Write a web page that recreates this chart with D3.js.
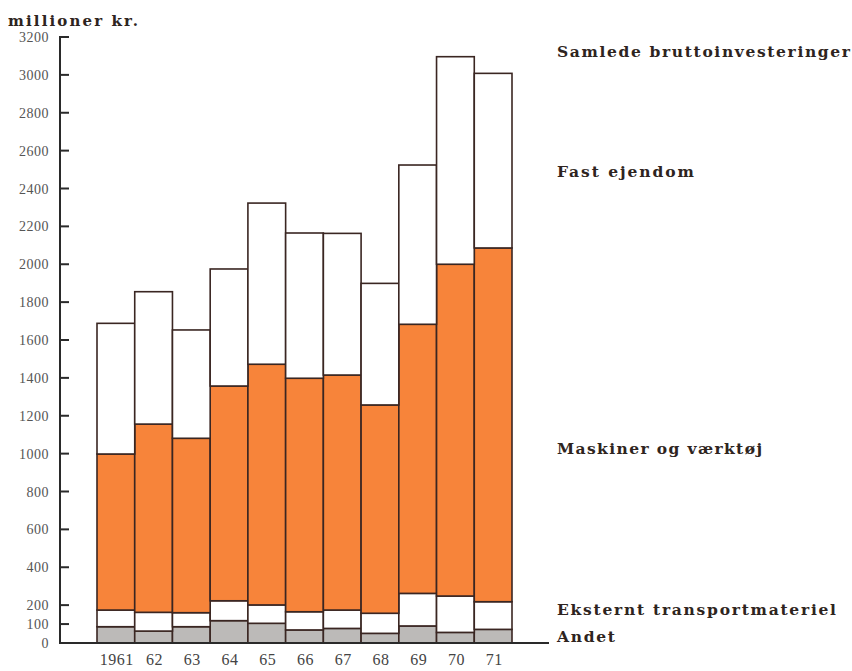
<!DOCTYPE html>
<html><head><meta charset="utf-8">
<script src="https://cdn.jsdelivr.net/npm/d3@7"></script>
<style>body{margin:0;background:#fff}svg{display:block}</style>
</head><body>
<svg id="c" width="852" height="671"></svg>
<script>
const years = ["1961","62","63","64","65","66","67","68","69","70","71"];
const andet = [86, 63, 86, 118, 104, 69, 77, 51, 90, 56, 72];
const transport = [88, 99, 74, 105, 97, 96, 97, 106, 172, 192, 146];
const maskiner = [824, 994, 921, 1134, 1271, 1233, 1241, 1100, 1421, 1752, 1868];
const fastEjendom = [690, 699, 572, 618, 851, 767, 748, 642, 841, 1096, 922];
const seriesKeys = ["andet","transport","maskiner","fast"];
const seriesLabels = ["Andet","Eksternt transportmateriel","Maskiner og værktøj","Fast ejendom"];
const totalLabel = "Samlede bruttoinvesteringer";
const yTicks = [0,100,200,400,600,800,1000,1200,1400,1600,1800,2000,2200,2400,2600,2800,3000,3200];
const unitLabel = "millioner kr.";

const rows = years.map((y,i)=>({year:y, andet:andet[i], transport:transport[i], maskiner:maskiner[i], fast:fastEjendom[i]}));
const stack = d3.stack().keys(seriesKeys)(rows);

const svg = d3.select("#c");
const x = d3.scaleBand().domain(years).range([97,512]).padding(0);
const y = d3.scaleLinear().domain([0,3200]).range([643,37]);
const fills = {andet:"#bcbab8", transport:"#ffffff", maskiner:"#f7843a", fast:"#ffffff"};
const ink = "#3a2622";
const serif = "'Liberation Serif','DejaVu Serif',serif";
const boldSerif = "'DejaVu Serif','Liberation Serif',serif";

// bars
svg.append("g").selectAll("g").data(stack).join("g")
  .attr("fill", d=>fills[d.key])
  .selectAll("rect").data(d=>d).join("rect")
  .attr("x", d=>x(d.data.year))
  .attr("width", x.bandwidth())
  .attr("y", d=>y(d[1]))
  .attr("height", d=>y(d[0])-y(d[1]))
  .attr("stroke", ink).attr("stroke-width",1.6);

// y axis
const axisX = 60;
const ax = svg.append("g");
ax.append("line").attr("x1",axisX).attr("x2",axisX).attr("y1",y(3200)-1).attr("y2",y(0))
  .attr("stroke","#2a2a2a").attr("stroke-width",2);
ax.selectAll("line.t").data(yTicks.filter(v=>v>0)).join("line").attr("class","t")
  .attr("x1",axisX).attr("x2",axisX+9).attr("y1",d=>y(d)).attr("y2",d=>y(d))
  .attr("stroke","#2a2a2a").attr("stroke-width",2);
ax.selectAll("text").data(yTicks).join("text")
  .attr("x",49).attr("y",d=>y(d)+5)
  .attr("text-anchor","end").attr("font-family",serif).attr("font-size",14)
  .attr("letter-spacing",0.5).attr("fill","#555")
  .text(d=>String(d));
// baseline
svg.append("line").attr("x1",axisX-1).attr("x2",549).attr("y1",y(0)).attr("y2",y(0))
  .attr("stroke","#2a2a2a").attr("stroke-width",2);

// x labels
svg.append("g").selectAll("text").data(years).join("text")
  .attr("x",d=>x(d)+x.bandwidth()/2+1).attr("y",665)
  .attr("text-anchor","middle").attr("font-family",serif).attr("font-size",16)
  .attr("letter-spacing",0.5).attr("fill","#444").text(d=>d);

// unit label
svg.append("text").attr("x",8).attr("y",26).attr("font-family",boldSerif).attr("font-weight","bold")
  .attr("font-size",15).attr("fill","#2e2420").attr("textLength",130).attr("lengthAdjust","spacing").text(unitLabel);

// series labels
const lab = [
  {t: totalLabel, y:57, w:293},
  {t: seriesLabels[3], y:177, w:137},
  {t: seriesLabels[2], y:454, w:205},
  {t: seriesLabels[1], y:615, w:279},
  {t: seriesLabels[0], y:642, w:58}
];
svg.append("g").selectAll("text").data(lab).join("text")
  .attr("x",557).attr("y",d=>d.y).attr("font-family",boldSerif).attr("font-weight","bold")
  .attr("font-size",15.5).attr("fill","#2e2420")
  .attr("textLength",d=>d.w).attr("lengthAdjust","spacing").text(d=>d.t);
</script>
</body></html>
